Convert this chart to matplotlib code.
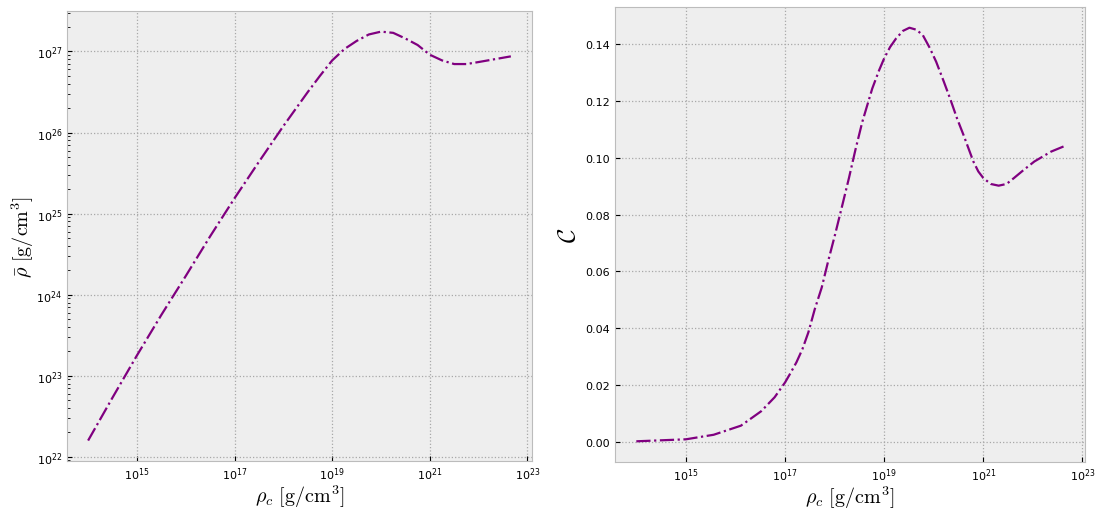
import numpy as np
import matplotlib
matplotlib.use("Agg")
import matplotlib.pyplot as plt

plt.style.use("bmh")
plt.rcParams["mathtext.fontset"] = "cm"
plt.rcParams["grid.linestyle"] = ":"
plt.rcParams["grid.color"] = "#a8a8a8"
plt.rcParams["grid.linewidth"] = 0.9
plt.rcParams["xtick.labelsize"] = 8
plt.rcParams["ytick.labelsize"] = 8

# log10 of central density
log_rho_c_mean = [14.0, 14.5, 15.0, 15.5, 16.0, 16.5, 17.0, 17.5, 18.0, 18.5,
                  18.75, 19.0, 19.25, 19.5, 19.75, 20.0, 20.25, 20.5, 20.75,
                  21.0, 21.25, 21.5, 21.75, 22.0, 22.33, 22.66]
# log10 of mean density
log_rho_mean = [22.2, 22.73, 23.25, 23.75, 24.23, 24.72, 25.19, 25.64, 26.08, 26.5,
                26.70, 26.89, 27.03, 27.13, 27.21, 27.245, 27.23, 27.16, 27.08,
                26.96, 26.89, 26.845, 26.845, 26.87, 26.905, 26.94]

# log10 of central density and compactness
log_rho_c_comp = [14.0, 15.0, 15.56, 16.11, 16.52, 16.79, 17.0, 17.1, 17.23, 17.35,
                  17.47, 17.6, 17.74, 17.87, 18.01, 18.15, 18.29, 18.42, 18.56,
                  18.76, 18.9, 19.0, 19.12, 19.24, 19.38, 19.51, 19.65, 19.78,
                  19.92, 20.05, 20.2, 20.33, 20.47, 20.6, 20.8, 20.9, 21.0, 21.15,
                  21.31, 21.47, 21.62, 21.82, 22.03, 22.37, 22.62]
compactness = [0.0002, 0.0009, 0.0025, 0.0057, 0.0108, 0.0157, 0.0209, 0.0239, 0.028, 0.0326,
               0.0385, 0.0467, 0.0543, 0.0636, 0.073, 0.0829, 0.0929, 0.1028, 0.1127,
               0.1244, 0.1309, 0.135, 0.139, 0.142, 0.1447, 0.1458, 0.1451, 0.1432,
               0.1387, 0.1338, 0.127, 0.1209, 0.1139, 0.1081, 0.0987, 0.0952, 0.0929, 0.0908,
               0.0902, 0.0908, 0.0929, 0.0958, 0.0987, 0.1022, 0.104]

xlabel = r"$\rho_c\ [\mathrm{g/cm}^3]$"

fig = plt.figure(figsize=(10.96, 5.10), dpi=100)
ax1 = fig.add_axes([0.0611, 0.0941, 0.4243, 0.882])
ax2 = fig.add_axes([0.5611, 0.0922, 0.4288, 0.892])

ax1.plot(10 ** np.array(log_rho_c_mean), 10 ** np.array(log_rho_mean),
         color="purple", linestyle="-.", linewidth=1.6)
ax1.set_xscale("log")
ax1.set_yscale("log")
ax1.set_xlabel(xlabel, fontsize=14.5, labelpad=0)
ax1.set_ylabel(r"$\bar{\rho}\ [\mathrm{g/cm}^3]$", fontsize=14.5, labelpad=0)

ax2.plot(10 ** np.array(log_rho_c_comp), compactness,
         color="purple", linestyle="-.", linewidth=1.6)
ax2.set_xscale("log")
ax2.set_xlabel(xlabel, fontsize=14.5, labelpad=0)
ax2.set_ylabel(r"$\mathcal{C}$", fontsize=18, labelpad=4)

fig.savefig("out.png", dpi=100)
